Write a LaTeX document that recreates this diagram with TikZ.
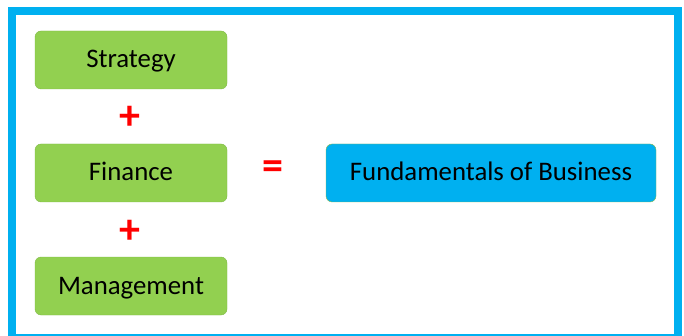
\documentclass[tikz,border=0pt]{standalone}
\usepackage{fontspec}
\setmainfont{Carlito}
\usepackage{tikz}
\usetikzlibrary{positioning}
\definecolor{leaf}{HTML}{92D050}
\definecolor{leafline}{HTML}{7FB947}
\definecolor{sky}{HTML}{00B0F0}
\definecolor{skyline}{HTML}{8DB84A}
\begin{document}
\begin{tikzpicture}[x=1pt, y=-1pt, part node/.style={draw=leafline, fill=leaf, rounded corners=6pt, minimum width=192pt, minimum height=58pt, text height=18pt, text depth=2pt, font=\fontsize{26.8}{30}\selectfont}, sum node/.style={draw=skyline, fill=sky, rounded corners=6pt, minimum width=330pt, minimum height=58pt, text height=18pt, text depth=2pt, font=\fontsize{26.8}{30}\selectfont}, sign/.style={text=red, inner sep=0pt, font=\fontsize{42}{42}\selectfont\bfseries}]
\useasboundingbox (0,0) rectangle (684,336);
\draw [sky, line width=8.5pt] (12,11) rectangle (678,338);
\node[part node] (1) at (131,60) {Strategy};
\node[part node] (2) at (131,173) {Finance};
\node[part node] (3) at (131,286) {Management};
\node[sign] (4) at (130,118) {+};
\node[sign] (5) at (130,232) {+};
\node[sign] (6) at (273,170) {=};
\node[sum node] (7) at (491,173) {Fundamentals of Business};
\end{tikzpicture}
\end{document}
